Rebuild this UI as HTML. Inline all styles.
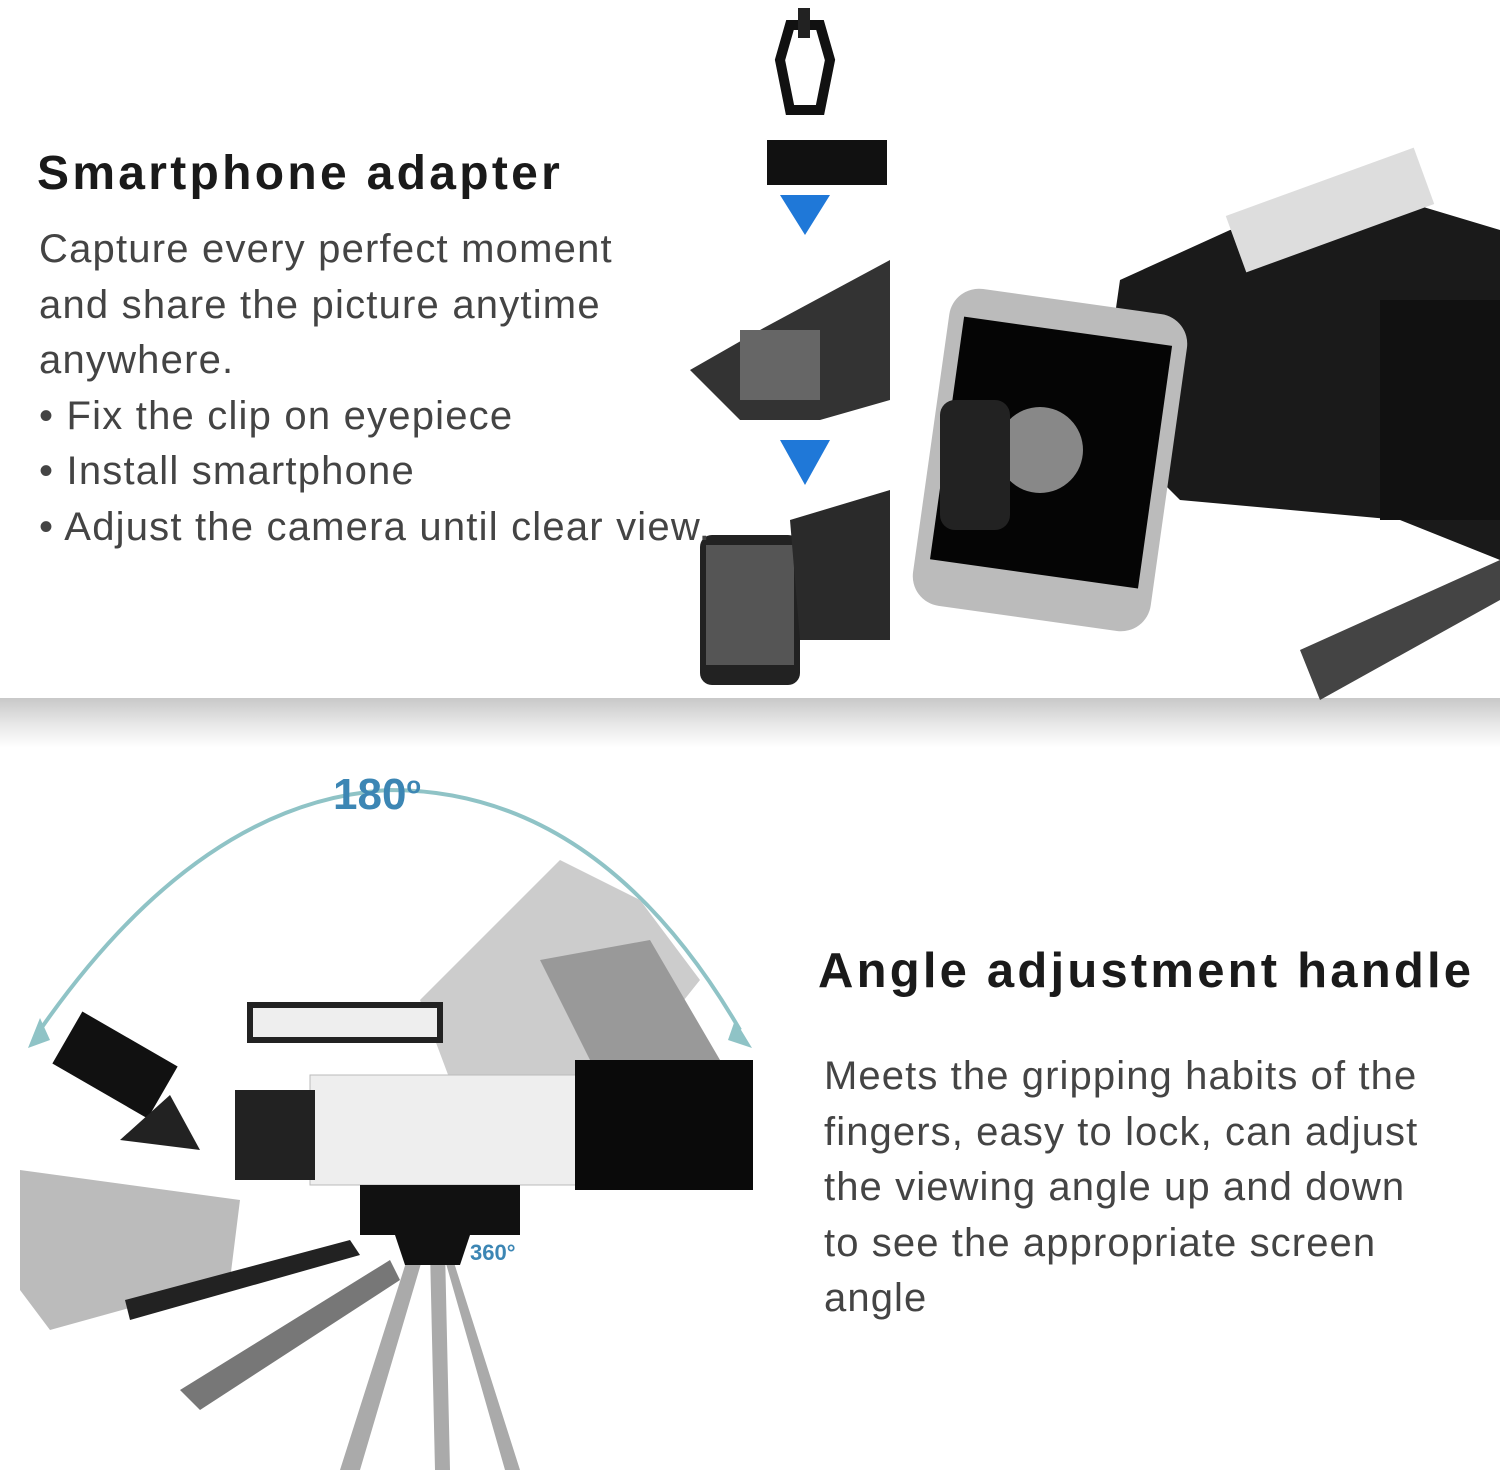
<!DOCTYPE html>
<html><head><meta charset="utf-8"><style>
body{margin:0;width:1500px;height:1470px;background:#fff;position:relative;overflow:hidden;font-family:"Liberation Sans",sans-serif}
.t{position:absolute;white-space:nowrap}
h1{margin:0;position:absolute;font-weight:bold;color:#1a1a1a;white-space:nowrap}
.p{position:absolute;color:#444;line-height:55.5px;white-space:nowrap}
</style></head><body>
<div style="position:absolute;left:0;top:698px;width:1500px;height:50px;background:linear-gradient(#c8c8c8,#e6e6e6 50%,#fff)"></div>
<svg width="1500" height="1470" style="position:absolute;left:0;top:0">
<rect x="767" y="140" width="120" height="45" fill="#111"/>
<path d="M790 25 L820 25 L830 60 L820 110 L790 110 L780 60Z" fill="none" stroke="#111" stroke-width="10"/>
<rect x="798" y="8" width="12" height="30" fill="#222"/>
<path d="M780 195 L830 195 L805 235Z" fill="#1f78d8"/>
<path d="M780 440 L830 440 L805 485Z" fill="#1f78d8"/>
<path d="M690 370 L760 330 L890 260 L890 400 L820 420 L740 420Z" fill="#333"/>
<rect x="740" y="330" width="80" height="70" fill="#666"/>
<rect x="700" y="535" width="100" height="150" rx="12" fill="#222"/>
<rect x="706" y="545" width="88" height="120" fill="#555"/>
<path d="M790 520 L890 490 L890 640 L800 640Z" fill="#2a2a2a"/>
<path d="M1120 280 L1230 230 L1400 200 L1500 230 L1500 560 L1400 520 L1180 500 L1100 420Z" fill="#1a1a1a"/>
<rect x="1230" y="180" width="200" height="60" fill="#ddd" transform="rotate(-20 1330 210)"/>
<rect x="1380" y="300" width="120" height="220" fill="#111"/>
<rect x="930" y="300" width="240" height="320" rx="30" fill="#bbb" transform="rotate(8 1050 460)"/>
<rect x="945" y="330" width="210" height="245" fill="#050505" transform="rotate(8 1050 460)"/>
<circle cx="1040" cy="450" r="43" fill="#888"/>
<rect x="940" y="400" width="70" height="130" rx="15" fill="#222"/>
<path d="M1300 650 L1500 560 L1500 600 L1320 700Z" fill="#444"/>
<path d="M40 1030 Q200 800 390 790 Q600 790 740 1030" fill="none" stroke="#8fc3c6" stroke-width="4"/>
<path d="M28 1048 L40 1018 L50 1040Z" fill="#8fc3c6"/><path d="M752 1048 L735 1020 L728 1040Z" fill="#8fc3c6"/>
<path d="M420 1000 L560 860 L640 900 L700 980 L620 1080 L450 1080Z" fill="#ccc"/>
<path d="M540 960 L650 940 L720 1060 L600 1080Z" fill="#999"/>
<rect x="310" y="1075" width="270" height="110" fill="#eee" stroke="#bbb"/>
<rect x="575" y="1060" width="178" height="130" fill="#0a0a0a"/>
<rect x="235" y="1090" width="80" height="90" fill="#222"/>
<rect x="60" y="1035" width="110" height="60" fill="#111" transform="rotate(30 115 1065)"/>
<path d="M120 1140 L170 1095 L200 1150Z" fill="#222"/>
<rect x="250" y="1005" width="190" height="35" fill="#eee" stroke="#222" stroke-width="6"/>
<path d="M20 1170 L240 1200 L230 1280 L50 1330 L20 1290Z" fill="#aaa" opacity=".8"/>
<rect x="360" y="1185" width="160" height="50" fill="#111"/>
<path d="M125 1300 L350 1240 L360 1255 L130 1320Z" fill="#222"/>
<path d="M180 1390 L390 1260 L400 1280 L200 1410Z" fill="#777"/>
<path d="M340 1470 L410 1250 L425 1250 L360 1470Z M430 1250 L445 1250 L450 1470 L435 1470Z M450 1250 L520 1470 L505 1470 L445 1260Z" fill="#aaa"/>
<path d="M395 1235 L470 1235 L460 1265 L405 1265Z" fill="#111"/>
</svg>
<h1 style="left:37px;top:146px;font-size:48px;letter-spacing:3.3px">Smartphone adapter</h1>
<div class="p" style="left:39px;top:222px;font-size:40px;letter-spacing:1.2px">Capture every perfect moment<br>and share the picture anytime<br>anywhere.<br>• Fix the clip on eyepiece<br>• Install smartphone<br>• Adjust the camera until clear view.</div>
<div class="t" style="left:333px;top:770px;font-size:44px;font-weight:bold;color:#3c86b4">180<sup style="font-size:24px">o</sup></div>
<div class="t" style="left:470px;top:1240px;font-size:22px;font-weight:bold;color:#3c86b4">360°</div>
<h1 style="left:818px;top:943px;font-size:49px;letter-spacing:3.2px">Angle adjustment handle</h1>
<div class="p" style="left:824px;top:1049px;font-size:40px;letter-spacing:1.1px">Meets the gripping habits of the<br>fingers, easy to lock, can adjust<br>the viewing angle up and down<br>to see the appropriate screen<br>angle</div>
</body></html>
